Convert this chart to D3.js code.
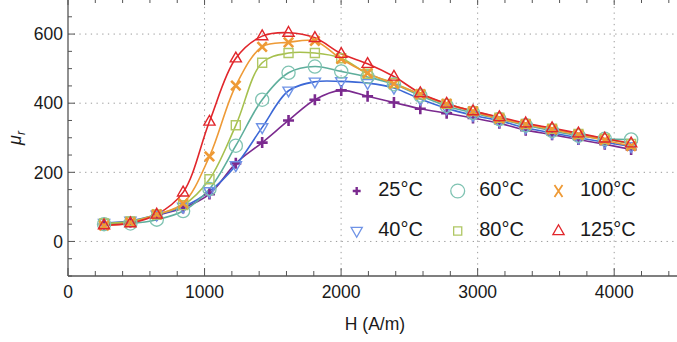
<!DOCTYPE html>
<html>
<head>
<meta charset="utf-8">
<script src="https://cdn.jsdelivr.net/npm/d3@7/dist/d3.min.js"></script>
<style>
  html, body { margin: 0; padding: 0; background: #fff; }
  svg { display: block; }
  text { font-family: "Liberation Sans", Arial, sans-serif; fill: #1a1a1a; }
</style>
</head>
<body>
<svg id="chart" width="677" height="342"></svg>
<script>
// Field strength H (A/m) at each measurement
const fieldH = [264, 457, 650, 843, 1036, 1229, 1422, 1615, 1808, 2001, 2194,
                2387, 2580, 2773, 2966, 3159, 3352, 3545, 3738, 3931, 4124];

// Relative permeability per temperature
const mu25  = [50, 56, 76, 97, 137, 226, 286, 350, 410, 437, 420, 402, 384, 371, 357, 342, 322, 309, 295, 281, 266];
const mu40  = [53, 60, 77, 100, 145, 220, 330, 436, 462, 463, 458, 444, 412, 385, 365, 349, 329, 314, 300, 287, 275];
const mu60  = [50, 52, 63, 88, 152, 277, 410, 488, 506, 492, 476, 455, 422, 392, 372, 354, 336, 320, 306, 297, 295];
const mu80  = [52, 58, 78, 105, 180, 336, 517, 545, 545, 530, 485, 458, 425, 398, 377, 358, 340, 326, 311, 297, 282];
const mu100 = [46, 55, 78, 110, 246, 451, 563, 576, 580, 528, 487, 456, 426, 398, 376, 355, 339, 324, 308, 293, 276];
const mu125 = [47, 53, 78, 142, 347, 530, 594, 604, 589, 543, 514, 477, 429, 399, 377, 360, 342, 328, 313, 298, 284];

const seriesLabels = ["25°C", "40°C", "60°C", "80°C", "100°C", "125°C"];
const seriesValues = [mu25, mu40, mu60, mu80, mu100, mu125];
const lineColors   = ["#7b2a8f", "#3c68d6", "#5eae9c", "#a6c04e", "#ee9a36", "#e1262b"];
const markerColors = ["#7b2a8f", "#6f93e6", "#7fc3b2", "#b0c764", "#ee9a36", "#e1262b"];
const markerShapes = ["plus", "down", "circle", "square", "cross", "up"];

const xMajorTicks = [0, 1000, 2000, 3000, 4000];
const yMajorTicks = [0, 200, 400, 600];

const svg = d3.select("#chart");
const chartW = 677;
const plotLeft = 68, plotBottom = 276, plotTop = -0.5;

const x = d3.scaleLinear().domain([0, 4500]).range([plotLeft, plotLeft + 4500 * 0.13655]);
const y = d3.scaleLinear().domain([-100, 700]).range([plotBottom, plotTop]);

const xMinor = d3.range(0, 4600, 200);
const yMinor = d3.range(-100, 701, 50);

// dotted grid
const grid = svg.append("g").attr("stroke", "#9a9a9a").attr("stroke-width", 1)
  .attr("stroke-dasharray", "1.3,4.4");
grid.selectAll("line.gx").data(xMajorTicks.filter(d => d > 0)).join("line")
  .attr("x1", d => x(d)).attr("x2", d => x(d)).attr("y1", plotBottom).attr("y2", 0);
grid.selectAll("line.gy").data(yMajorTicks).join("line")
  .attr("x1", plotLeft).attr("x2", chartW).attr("y1", d => y(d)).attr("y2", d => y(d));

// frame ticks (inward)
const axisColor = "#555";
const ticks = svg.append("g").attr("stroke", axisColor).attr("stroke-width", 1);
ticks.append("g").selectAll("line").data(xMinor).join("line")
  .attr("x1", d => x(d)).attr("x2", d => x(d))
  .attr("y1", plotBottom).attr("y2", d => plotBottom - (d % 1000 === 0 ? 8 : 5));
ticks.append("g").selectAll("line").data(xMinor).join("line")
  .attr("x1", d => x(d)).attr("x2", d => x(d))
  .attr("y1", 0).attr("y2", d => (d % 1000 === 0 ? 5 : 3));
ticks.append("g").selectAll("line").data(yMinor).join("line")
  .attr("x1", plotLeft).attr("x2", d => plotLeft + (d % 200 === 0 ? 7 : 4))
  .attr("y1", d => y(d)).attr("y2", d => y(d));

// frame lines
svg.append("line").attr("x1", plotLeft).attr("x2", chartW).attr("y1", plotBottom).attr("y2", plotBottom)
  .attr("stroke", axisColor).attr("stroke-width", 1.3);
svg.append("line").attr("x1", plotLeft).attr("x2", plotLeft).attr("y1", 0).attr("y2", plotBottom)
  .attr("stroke", axisColor).attr("stroke-width", 1.3);

// tick labels
svg.append("g").selectAll("text").data(xMajorTicks).join("text")
  .attr("x", d => x(d)).attr("y", 298).attr("text-anchor", "middle")
  .style("font-size", "17.5px").text(d => d);
svg.append("g").selectAll("text").data(yMajorTicks).join("text")
  .attr("x", 63).attr("y", d => y(d)).attr("dy", "0.36em").attr("text-anchor", "end")
  .style("font-size", "17.5px").text(d => d);

// axis titles
svg.append("text").attr("x", 375).attr("y", 330).attr("text-anchor", "middle")
  .style("font-size", "17.5px").text("H (A/m)");
const yTitle = svg.append("text").attr("transform", "translate(21,138) rotate(-90)")
  .attr("text-anchor", "middle").style("font-size", "18px");
yTitle.append("tspan").style("font-style", "italic").text("μ");
yTitle.append("tspan").style("font-style", "italic").style("font-size", "12px")
  .attr("dy", "4").text("r");

// marker shapes
function shapePath(kind, k) {
  const s = k || 1;
  switch (kind) {
    case "plus":   return `M${-5.5*s},0H${5.5*s}M0,${-5.5*s}V${5.5*s}`;
    case "cross":  return `M${-4.7*s},${-4.7*s}L${4.7*s},${4.7*s}M${-4.7*s},${4.7*s}L${4.7*s},${-4.7*s}`;
    case "square": return `M${-4.5*s},${-4.5*s}H${4.5*s}V${4.5*s}H${-4.5*s}Z`;
    case "up":     return `M0,${-6.2*s}L${5.6*s},${3.6*s}L${-5.6*s},${3.6*s}Z`;
    case "down":   return `M0,${6.2*s}L${5.6*s},${-3.6*s}L${-5.6*s},${-3.6*s}Z`;
    case "circle": return d3.arc()({innerRadius: 0, outerRadius: 6.6*s, startAngle: 0, endAngle: 2*Math.PI});
  }
}
const strokeW = {plus: 2.6, cross: 2.6, square: 1.4, up: 1.4, down: 1.4, circle: 1.3};

const plot = svg.append("g");
const line = d3.line().x(d => x(d[0])).y(d => y(d[1])).curve(d3.curveCatmullRom.alpha(0.5));

// curves
seriesValues.forEach((vals, i) => {
  plot.append("path")
    .datum(fieldH.map((h, j) => [h, vals[j]]))
    .attr("d", line).attr("fill", "none")
    .attr("stroke", lineColors[i]).attr("stroke-width", 1.6);
});

// markers
seriesValues.forEach((vals, i) => {
  const kind = markerShapes[i];
  plot.append("g").selectAll("path").data(fieldH.map((h, j) => [h, vals[j]])).join("path")
    .attr("transform", d => `translate(${x(d[0])},${y(d[1])})`)
    .attr("d", shapePath(kind)).attr("fill", "none")
    .attr("stroke", markerColors[i]).attr("stroke-width", strokeW[kind]);
});

// legend: 3 columns, 2 rows
const legendCols = [356.7, 457.7, 558.5];
const legendRows = [191, 231];
const legendOrder = [0, 2, 4, 1, 3, 5];
const legend = svg.append("g");
legendOrder.forEach((si, k) => {
  const cx = legendCols[k % 3], cy = legendRows[Math.floor(k / 3)];
  const kind = markerShapes[si];
  let d;
  if (kind === "cross") d = "M-4,-6L4,6M4,-6L-4,6";
  else if (kind === "plus") d = shapePath("plus", 0.72);
  else if (kind === "square") d = shapePath("square", 0.9);
  else if (kind === "circle") d = shapePath("circle", 1.05);
  else d = shapePath(kind, 1.0);
  legend.append("path").attr("transform", `translate(${cx},${cy})`).attr("d", d)
    .attr("fill", "none").attr("stroke", markerColors[si])
    .attr("stroke-width", kind === "plus" ? 2.4 : kind === "cross" ? 1.8 : 1.3);
  legend.append("text").attr("x", cx + 21.5).attr("y", cy + 4.5)
    .style("font-size", "20px").text(seriesLabels[si]);
});
</script>
</body>
</html>
